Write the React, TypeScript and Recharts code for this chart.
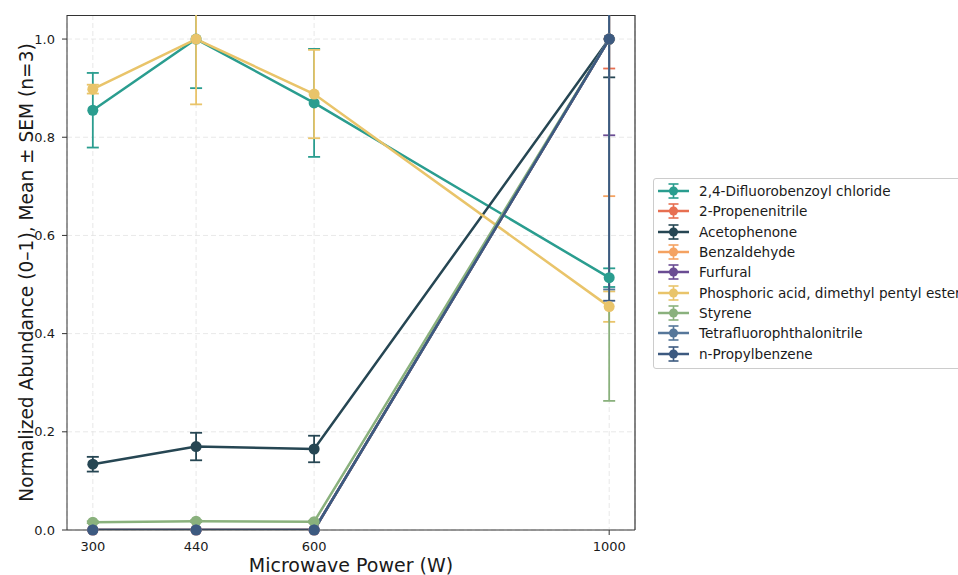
import {
  CartesianGrid,
  ErrorBar,
  Line,
  LineChart,
  ReferenceLine,
  XAxis,
  YAxis,
} from "recharts";

// microwave power levels (W)
const powers = [300, 440, 600, 1000];
const xTicks = [300, 440, 600, 1000];
const yTicks = [0, 0.2, 0.4, 0.6, 0.8, 1.0];
const X_DOMAIN: [number, number] = [265, 1035];
const Y_DOMAIN: [number, number] = [0, 1.049];

const names = [
  "2,4-Difluorobenzoyl chloride",
  "2-Propenenitrile",
  "Acetophenone",
  "Benzaldehyde",
  "Furfural",
  "Phosphoric acid, dimethyl pentyl ester",
  "Styrene",
  "Tetrafluorophthalonitrile",
  "n-Propylbenzene",
];

const colors = [
  "#2a9d8f",
  "#e76f51",
  "#264653",
  "#f4a261",
  "#6a4c93",
  "#e9c46a",
  "#8ab17d",
  "#56779a",
  "#3d5a80",
];

// normalized abundance, mean
const difluoroMean = [0.855, 1.0, 0.87, 0.514];
const propenenitrileMean = [0, 0, 0, 1.0];
const acetophenoneMean = [0.134, 0.17, 0.165, 1.0];
const benzaldehydeMean = [0, 0, 0, 1.0];
const furfuralMean = [0, 0, 0, 1.0];
const phosphoricMean = [0.898, 1.0, 0.888, 0.455];
const styreneMean = [0.016, 0.018, 0.017, 1.0];
const tetrafluoroMean = [0, 0, 0, 1.0];
const propylbenzeneMean = [0, 0, 0, 1.0];

// SEM (n=3)
const difluoroSem = [0.076, 0.1, 0.11, 0.019];
const propenenitrileSem = [0, 0, 0, 0.06];
const acetophenoneSem = [0.015, 0.028, 0.027, 0.078];
const benzaldehydeSem = [0, 0, 0, 0.32];
const furfuralSem = [0, 0, 0, 0.196];
const phosphoricSem = [0.009, 0.133, 0.09, 0.031];
const styreneSem = [0.002, 0.002, 0.002, 0.737];
const tetrafluoroSem = [0, 0, 0, 0.51];
const propylbenzeneSem = [0, 0, 0, 0.533];

const means = [
  difluoroMean,
  propenenitrileMean,
  acetophenoneMean,
  benzaldehydeMean,
  furfuralMean,
  phosphoricMean,
  styreneMean,
  tetrafluoroMean,
  propylbenzeneMean,
];
const sems = [
  difluoroSem,
  propenenitrileSem,
  acetophenoneSem,
  benzaldehydeSem,
  furfuralSem,
  phosphoricSem,
  styreneSem,
  tetrafluoroSem,
  propylbenzeneSem,
];

const FONT = "'DejaVu Sans', sans-serif";

const rows = powers.map((x, i) => {
  const row: Record<string, number> = { x };
  names.forEach((_, s) => {
    row[`s${s}`] = means[s][i];
    row[`s${s}Err`] = sems[s][i];
  });
  return row;
});

function LegendIcon({ color }: { color: string }) {
  return (
    <svg width={31} height={16} style={{ display: "block" }}>
      <line x1={0} y1={8} x2={31} y2={8} stroke={color} strokeWidth={2.5} />
      <line x1={15.5} y1={1} x2={15.5} y2={15} stroke={color} strokeWidth={1.6} />
      <line x1={10.5} y1={1} x2={20.5} y2={1} stroke={color} strokeWidth={1.6} />
      <line x1={10.5} y1={15} x2={20.5} y2={15} stroke={color} strokeWidth={1.6} />
      <circle cx={15.5} cy={8} r={4.5} fill={color} />
    </svg>
  );
}

function ChartLegend() {
  return (
    <div
      style={{
        position: "absolute",
        left: 653,
        top: 178,
        border: "1px solid #cccccc",
        borderRadius: 3,
        background: "#fff",
        padding: "2px 8px 4px 4px",
        fontFamily: FONT,
        fontSize: 13.6,
        color: "#1a1a1a",
        whiteSpace: "nowrap",
      }}
    >
      {names.map((n, i) => (
        <div
          key={n}
          style={{ display: "flex", alignItems: "center", height: 20.3 }}
        >
          <LegendIcon color={colors[i]} />
          <span style={{ marginLeft: 10 }}>{n}</span>
        </div>
      ))}
    </div>
  );
}

export default function App() {
  return (
    <div
      style={{
        position: "absolute",
        left: 0,
        top: 0,
        width: 958,
        height: 575,
        overflow: "hidden",
        background: "#fff",
      }}
    >
      {/* chart svg starts at the plot top so error bars above the frame get cut */}
      <div style={{ position: "absolute", left: 0, top: 15 }}>
        <LineChart
          width={958}
          height={560}
          data={rows}
          margin={{ top: 0, right: 323, bottom: 0, left: 0 }}
        >
          <CartesianGrid
            stroke="#e2e2e2"
            strokeDasharray="5 3"
            strokeWidth={0.8}
          />
          <XAxis
            dataKey="x"
            type="number"
            domain={X_DOMAIN}
            ticks={xTicks}
            allowDataOverflow
            height={45}
            tickSize={5}
            tickMargin={7}
            stroke="#333"
            tick={{ fill: "#1a1a1a", fontSize: 13, fontFamily: FONT }}
            label={{
              content: ({ viewBox }: any) => (
                <text
                  x={viewBox.x + viewBox.width / 2}
                  y={viewBox.y + 42}
                  textAnchor="middle"
                  fontFamily={FONT}
                  fontSize={19}
                  fill="#1a1a1a"
                >
                  Microwave Power (W)
                </text>
              ),
            }}
          />
          <YAxis
            type="number"
            domain={Y_DOMAIN}
            ticks={yTicks}
            allowDataOverflow
            width={67}
            tickSize={5}
            tickMargin={7}
            stroke="#333"
            tickFormatter={(v: number) => v.toFixed(1)}
            tick={{ fill: "#1a1a1a", fontSize: 13, fontFamily: FONT }}
            label={{
              content: ({ viewBox }: any) => {
                const cy = viewBox.y + viewBox.height / 2;
                return (
                  <text
                    x={33}
                    y={cy}
                    transform={`rotate(-90, 33, ${cy})`}
                    textAnchor="middle"
                    fontFamily={FONT}
                    fontSize={18.6}
                    fill="#1a1a1a"
                  >
                    Normalized Abundance (0–1), Mean ± SEM (n=3)
                  </text>
                );
              },
            }}
          />
          <ReferenceLine y={Y_DOMAIN[1]} stroke="#333" strokeWidth={2} />
          <ReferenceLine x={X_DOMAIN[1]} stroke="#333" strokeWidth={1.2} />
          {names.map((n, i) => (
            <Line
              key={n}
              type="linear"
              dataKey={`s${i}`}
              name={n}
              stroke={colors[i]}
              strokeWidth={2.5}
              dot={{
                r: 5.5,
                fill: colors[i],
                stroke: colors[i],
                strokeWidth: 0,
                clipDot: false,
              }}
              activeDot={false}
              isAnimationActive={false}
            >
              <ErrorBar
                dataKey={`s${i}Err`}
                direction="y"
                width={6}
                stroke={colors[i]}
                strokeWidth={1.8}
                isAnimationActive={false}
              />
            </Line>
          ))}
        </LineChart>
      </div>
      <ChartLegend />
    </div>
  );
}
